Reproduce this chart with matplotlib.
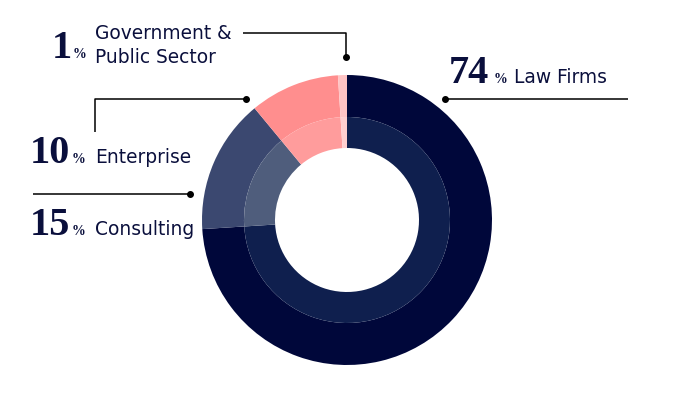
import matplotlib.pyplot as plt

# data
labels = ["Law Firms", "Consulting", "Enterprise", "Government &\nPublic Sector"]
values = [74, 15, 10, 1]
colors = ["#00073a", "#3b4870", "#ff8e8e", "#ffc4c4"]
band_colors = ["#0f1f4e", "#4f5d7c", "#ff9c9c", "#ffcfcf"]

W, H = 700, 393
TXT = "#0a0f3c"


def py(y):
    # pixel row (from top) -> data y
    return H - y


fig = plt.figure(figsize=(7, 3.93), dpi=100)
ax = fig.add_axes([0, 0, 1, 1])

cx, cy, r = 347, py(220), 145

ax.pie(values, colors=colors, radius=r, center=(cx, cy), startangle=90,
       counterclock=False, wedgeprops=dict(width=r - 103, linewidth=0))
ax.pie(values, colors=band_colors, radius=103, center=(cx, cy), startangle=90,
       counterclock=False, wedgeprops=dict(width=31, linewidth=0))
ax.set_xlim(0, W)
ax.set_ylim(0, H)
ax.set_aspect("equal")
ax.axis("off")

# leader lines
line_kw = dict(color="black", lw=1.1, solid_capstyle="butt")
dot_kw = dict(marker="o", ms=4, color="black")

ax.plot([243, 346, 346], [py(33), py(33), py(57)], **line_kw)
ax.plot([346], [py(57)], **dot_kw)

ax.plot([445, 628], [py(99), py(99)], **line_kw)
ax.plot([445], [py(99)], **dot_kw)

ax.plot([95, 95, 246], [py(132), py(99), py(99)], **line_kw)
ax.plot([246], [py(99)], **dot_kw)

ax.plot([33, 190], [py(194), py(194)], **line_kw)
ax.plot([190], [py(194)], **dot_kw)

# text
num_kw = dict(family="Liberation Serif", weight="bold", fontsize=29, color=TXT,
              va="baseline")
pct_kw = dict(family="Liberation Serif", weight="bold", fontsize=10, color=TXT,
              va="baseline")
lab_kw = dict(family="DejaVu Sans", fontsize=13.4, color=TXT, va="baseline")

# Government
ax.text(72, py(58), str(values[3]), ha="right", **num_kw)
ax.text(73, py(58), "%", ha="left", **pct_kw)
ax.text(95, py(39), "Government &", ha="left", **lab_kw)
ax.text(95, py(63), "Public Sector", ha="left", **lab_kw)

# Enterprise
ax.text(70, py(163), str(values[2]), ha="right", **num_kw)
ax.text(72, py(163), "%", ha="left", **pct_kw)
ax.text(95, py(163), labels[2], ha="left", **lab_kw)

# Consulting
ax.text(70, py(235), str(values[1]), ha="right", **num_kw)
ax.text(72, py(235), "%", ha="left", **pct_kw)
ax.text(95, py(235), labels[1], ha="left", **lab_kw)

# Law Firms
ax.text(449, py(83), str(values[0]), ha="left", **num_kw)
ax.text(494, py(83), "%", ha="left", **pct_kw)
ax.text(514, py(83), labels[0], ha="left", **lab_kw)

fig.savefig("out.png", dpi=100, facecolor="white")
